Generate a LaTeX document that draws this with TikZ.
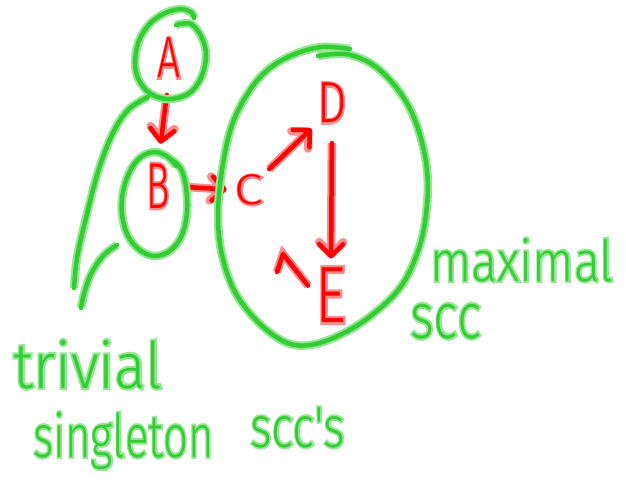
\documentclass[tikz,border=0pt]{standalone}
\usepackage{fontspec}
\setmainfont{Fira Sans}
\newfontfamily\penfont{Fira Sans Light}
\newfontfamily\glowfont[FakeBold=6.5]{Fira Sans Light}
\usetikzlibrary{arrows.meta}
\definecolor{inkgreen}{RGB}{50,205,50}
\definecolor{glowgreen}{RGB}{150,230,150}
\definecolor{inkred}{RGB}{255,0,0}
\definecolor{glowred}{RGB}{255,140,140}
% ink text with a soft glow behind it
\newcommand\inked[3]{\rlap{\color{#2}\glowfont #3}{\color{#1}\penfont #3}}
\newcommand\redink[1]{\inked{inkred}{glowred}{#1}}
\newcommand\greenink[1]{\inked{inkgreen}{glowgreen}{#1}}
\begin{document}
\begin{tikzpicture}[x=1pt,y=-1pt,
  greenpen/.style={draw=inkgreen, line width=4.5pt, line cap=round, line join=round,
    preaction={draw=glowgreen, line width=8.5pt}},
  redpen/.style={draw=inkred, line width=4.5pt, line cap=round, line join=round,
    preaction={draw=glowred, line width=8.5pt}},
  redarrow/.style={draw=inkred, line width=4.5pt, line cap=round, line join=round,
    -{Straight Barb[length=12pt,width=24pt,round]},
    preaction={draw=glowred, line width=8.5pt, -{Straight Barb[length=12pt,width=24pt,round]}}},
  vtx/.style={inner sep=0pt, anchor=center},
  word/.style={inner sep=0pt, anchor=base west}]
\fill[white] (0,0) rectangle (626,492);
\useasboundingbox (0,0) rectangle (626,492);

% vertices
\node[vtx, xscale=0.7, font=\fontsize{58}{58}\selectfont] (a) at (169,58) {\redink{A}};
\node[vtx, xscale=0.6, font=\fontsize{65}{65}\selectfont] (b) at (158,186) {\redink{B}};
\node[vtx, xscale=1.2, font=\fontsize{43}{43}\selectfont] (c) at (249,190) {\redink{C}};
\node[vtx, xscale=0.8, font=\fontsize{58}{58}\selectfont] (d) at (332,103) {\redink{D}};
\node[vtx, xscale=0.75, font=\fontsize{80}{80}\selectfont] (e) at (331,295) {\redink{E}};

% edges
\draw[redarrow, shorten <=17pt, shorten >=20pt] (a.south) -- (b.north);
\draw[redarrow, shorten <=15pt, shorten >=8pt] (b.east) -- (c.west);
\draw[redarrow, shorten <=8pt, shorten >=8pt] (c.north east) -- (d.south west);
\draw[redarrow, shorten <=20pt, shorten >=9pt] (d.south) -- (e.north);
\coordinate (ectip) at (283,254);
\coordinate (ecwing) at (277,272);
\draw[redpen, shorten <=12pt] (e.west) -- (ectip) -- (ecwing);

% circle around A
\draw[greenpen] plot[smooth, tension=0.6] coordinates {(176,25) (191,24) (202,38) (206,56)
  (201,78) (188,94) (166,99) (147,91) (136,72) (137,47) (147,27) (163,14) (181,9) (192,13) (194,18)};
% circle around B
\draw[greenpen] plot[smooth, tension=0.6] coordinates {(176,166) (168,157) (155,152) (141,157)
  (130,171) (123,192) (122,214) (128,236) (141,251) (156,256) (171,250) (182,235) (187,212)
  (186,187) (181,169) (172,160)};
% the big component
\draw[greenpen] plot[smooth, tension=0.6] coordinates {(318,56) (345,54) (370,63) (390,80)
  (408,105) (420,135) (427,170) (427,205) (420,245) (402,285) (372,315) (340,335) (310,345)
  (285,342) (258,322) (235,292) (222,255) (218,215) (222,170) (232,125) (250,90) (270,68)
  (295,54) (322,47) (350,49)};
% pointer strokes to the label
\draw[greenpen] plot[smooth, tension=0.6] coordinates {(148,97) (128,110) (112,135) (98,172)
  (85,222) (77,258) (74,288)};
\draw[greenpen] plot[smooth, tension=0.6] coordinates {(117,245) (103,256) (91,274) (84,294) (81,308)};

% labels
\node[word, xscale=0.92, font=\fontsize{64}{64}\selectfont] (t1) at (13,388) {\greenink{trivial}};
\node[word, xscale=0.73, font=\fontsize{60}{60}\selectfont] (t2) at (33,457) {\greenink{singleton}};
\node[word, xscale=0.8, font=\fontsize{58}{58}\selectfont] (t3) at (250,447) {\greenink{scc's}};
\node[word, xscale=0.85, font=\fontsize{57}{57}\selectfont] (t4) at (430,281) {\greenink{maximal}};
\node[word, xscale=0.8, font=\fontsize{64}{64}\selectfont] (t5) at (410,338) {\greenink{scc}};
\end{tikzpicture}
\end{document}
